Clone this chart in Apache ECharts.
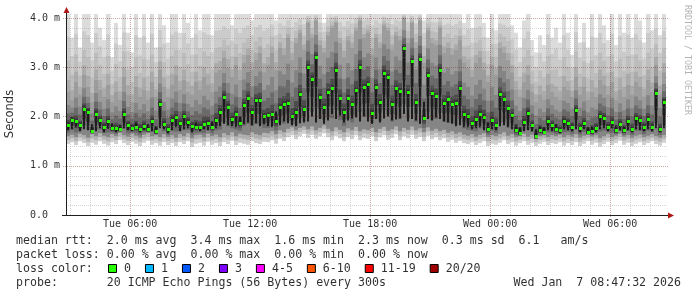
<!DOCTYPE html>
<html><head><meta charset="utf-8">
<script src="https://cdn.jsdelivr.net/npm/echarts@6/dist/echarts.min.js"></script>
<style>html,body{margin:0;padding:0;background:#fff}#c{width:697px;height:297px}</style>
</head><body><div id="c"></div>
<script>
// time in hours since Tue 00:00; one smoke column every 12 minutes
const tStart = 2.792;
const tStep = 0.2;
const tSpan = 30;
const yMax = 4.08;

const median = [
1.83,1.93,1.90,1.82,2.16,2.10,1.71,2.06,1.92,1.79,1.90,1.76,1.76,1.75,2.05,1.82,1.77,1.79,1.75,1.80,1.74,1.90,1.70,2.25,1.85,
1.75,1.93,1.98,1.86,2.00,1.89,1.80,1.79,1.79,1.85,1.87,1.79,1.92,2.10,2.40,2.20,1.95,2.05,1.86,2.23,2.38,2.10,2.33,2.34,2.00,
2.02,2.05,1.90,2.20,2.26,2.28,2.00,2.10,2.45,2.15,3.00,2.77,3.20,2.40,2.20,2.50,2.58,2.95,2.38,2.10,2.38,2.25,2.54,3.00,2.60,
2.65,2.08,2.60,2.29,2.89,2.80,2.26,2.57,2.52,3.38,2.49,3.12,2.29,3.16,1.97,2.84,2.47,2.41,2.94,2.28,2.35,2.26,2.28,2.57,2.06,
2.00,1.86,1.95,2.06,1.99,1.75,1.93,1.82,2.46,2.36,2.17,2.02,1.73,1.67,1.89,2.07,1.82,1.60,1.72,1.69,1.90,1.82,1.75,1.72,1.90,
1.86,1.79,2.13,1.77,1.86,1.69,1.70,1.77,2.00,1.97,1.79,1.88,1.72,1.84,1.72,1.90,1.75,1.96,1.92,1.79,1.95,1.79,2.48,1.75,2.30];

const smokeDark = [
1.72,1.74,1.78,1.70,1.74,1.72,1.84,1.70,1.76,1.68,1.75,1.86,1.68,1.82,1.76,1.72,1.70,1.88,1.68,1.72,1.84,1.70,1.80,1.76,1.74,
1.66,1.72,1.78,1.70,1.74,1.76,1.68,1.88,1.70,1.74,1.72,1.90,1.76,1.80,1.85,1.82,1.80,1.78,2.00,1.84,1.88,1.82,1.86,1.80,1.84,
1.80,1.78,2.10,1.82,1.90,1.86,1.82,1.80,1.86,1.88,1.90,2.00,1.88,1.95,1.85,1.92,2.05,1.95,2.02,1.88,1.92,1.96,1.98,1.90,2.00,
1.90,1.85,1.95,1.88,1.96,2.00,1.92,1.94,1.96,2.05,1.90,1.95,1.92,1.85,2.30,1.95,1.92,1.98,1.95,1.90,1.88,1.85,1.80,1.82,1.78,
1.78,1.74,1.76,1.78,1.72,1.88,1.74,1.72,1.80,1.82,1.78,1.74,1.82,1.78,1.70,1.72,1.70,1.74,1.80,1.78,1.72,1.70,1.84,1.66,1.74,
1.72,1.70,1.74,1.68,1.74,1.78,1.80,1.68,1.74,1.76,1.70,1.76,1.82,1.72,1.80,1.72,1.68,1.74,1.72,1.70,1.74,1.70,1.76,1.68,1.76];

const smokeLo = [
1.44,1.48,1.42,1.50,1.46,1.40,1.47,1.43,1.50,1.45,1.41,1.48,1.44,1.52,1.46,1.42,1.49,1.45,1.40,1.47,1.51,1.43,1.46,1.41,1.48,
1.42,1.46,1.40,1.48,1.44,1.50,1.38,1.45,1.47,1.41,1.49,1.43,1.46,1.40,1.48,1.44,1.51,1.42,1.47,1.45,1.43,1.50,1.46,1.44,1.49,
1.48,1.52,1.45,1.55,1.50,1.58,1.62,1.54,1.60,1.65,1.57,1.63,1.55,1.60,1.66,1.58,1.52,1.61,1.56,1.50,1.59,1.54,1.62,1.52,1.57,
1.55,1.60,1.50,1.58,1.62,1.53,1.57,1.64,1.52,1.60,1.56,1.63,1.55,1.59,1.50,1.61,1.54,1.58,1.52,1.56,1.49,1.53,1.47,1.51,1.46,
1.44,1.48,1.42,1.46,1.50,1.40,1.45,1.43,1.47,1.52,1.44,1.48,1.41,1.46,1.50,1.43,1.47,1.40,1.45,1.49,1.42,1.46,1.44,1.48,1.41,
1.46,1.42,1.48,1.40,1.45,1.50,1.43,1.47,1.39,1.44,1.49,1.42,1.46,1.51,1.43,1.47,1.40,1.45,1.48,1.42,1.46,1.50,1.44,1.41,1.47];

const smokeQ1 = [
1.60,1.63,1.58,1.65,1.62,1.57,1.64,1.60,1.66,1.61,1.58,1.64,1.60,1.67,1.62,1.59,1.65,1.61,1.57,1.63,1.66,1.60,1.62,1.58,1.64,
1.58,1.62,1.57,1.64,1.60,1.66,1.56,1.62,1.63,1.58,1.65,1.60,1.63,1.58,1.66,1.62,1.68,1.60,1.65,1.63,1.62,1.68,1.64,1.62,1.67,
1.66,1.70,1.64,1.72,1.68,1.75,1.78,1.72,1.77,1.80,1.74,1.80,1.72,1.77,1.82,1.75,1.70,1.78,1.73,1.68,1.76,1.72,1.79,1.70,1.74,
1.72,1.77,1.68,1.75,1.79,1.71,1.74,1.80,1.70,1.77,1.73,1.80,1.72,1.76,1.68,1.78,1.71,1.75,1.70,1.73,1.67,1.70,1.65,1.68,1.63,
1.61,1.64,1.59,1.63,1.66,1.58,1.62,1.60,1.64,1.68,1.61,1.64,1.58,1.60,1.65,1.59,1.63,1.56,1.60,1.62,1.58,1.62,1.60,1.63,1.58,
1.62,1.59,1.64,1.57,1.61,1.63,1.59,1.62,1.56,1.60,1.64,1.58,1.61,1.65,1.59,1.62,1.57,1.61,1.63,1.58,1.61,1.64,1.60,1.57,1.62];

const smokeQ3 = [
2.50,2.35,2.70,2.45,2.85,2.60,2.30,2.75,2.55,2.40,2.65,2.30,2.50,2.35,2.80,2.45,2.30,2.60,2.40,2.55,2.35,2.70,2.40,2.95,2.60,
2.40,2.65,2.85,2.55,2.75,2.50,2.45,2.70,2.55,2.80,2.65,2.50,2.90,2.95,3.20,3.00,2.80,3.05,2.75,3.10,3.25,2.95,3.15,3.30,2.90,
3.05,3.30,2.95,3.40,3.25,3.60,3.15,3.50,3.70,3.35,3.90,3.60,3.95,3.45,3.30,3.65,3.80,3.90,3.50,3.20,3.55,3.40,3.75,3.95,3.60,
3.70,3.25,3.60,3.40,3.85,3.75,3.35,3.65,3.55,4.00,3.50,3.90,3.40,3.95,3.10,3.75,3.50,3.45,3.80,3.30,3.40,3.25,3.35,3.55,3.10,
3.00,2.80,3.10,3.20,2.95,2.70,3.05,2.85,3.40,3.30,3.15,2.90,2.55,2.40,2.70,2.85,2.50,2.30,2.45,2.35,2.65,2.50,2.40,2.35,2.60,
2.55,2.40,2.80,2.45,2.60,2.35,2.50,2.40,2.75,2.65,2.45,2.70,2.35,2.55,2.40,2.65,2.45,2.70,2.60,2.40,2.75,2.50,3.05,2.45,2.90];

const smokeHi = [
4.10,3.60,4.10,3.40,4.10,4.10,3.50,4.10,3.80,3.55,4.10,3.20,3.90,3.45,4.10,3.70,3.30,4.10,3.60,4.10,3.50,4.10,3.40,4.10,3.85,
3.50,4.10,4.10,3.70,4.10,3.90,3.60,4.10,3.75,4.10,4.10,3.65,4.10,4.10,4.10,4.10,3.85,4.10,4.10,4.10,4.10,3.95,4.10,4.10,4.10,
4.10,4.10,3.95,4.10,4.10,4.10,4.10,4.10,4.10,4.10,4.10,4.10,4.10,4.10,3.90,4.10,4.10,4.10,4.10,4.10,4.10,4.10,4.10,4.10,4.10,
4.10,4.10,4.10,4.10,4.10,4.10,4.10,4.10,4.10,4.10,4.10,4.10,4.10,4.10,3.95,4.10,4.10,4.10,4.10,4.10,4.10,4.10,4.10,4.10,3.90,
4.10,3.80,4.10,4.10,3.90,3.60,4.10,3.75,4.10,4.10,4.10,3.85,3.70,3.40,3.95,4.10,3.55,3.30,3.65,3.45,4.10,3.60,3.80,3.50,4.10,
3.70,3.25,4.10,3.50,3.90,3.40,4.10,3.60,4.10,3.85,3.55,4.10,3.45,4.10,3.70,4.10,3.60,4.10,3.95,3.50,4.10,3.75,4.10,3.65,4.10];

const yLabelValues = [0, 1, 2, 3, 4];
const yMajorTicks = [1, 2, 3, 4];
const yMinorTicks = [0.2,0.4,0.6,0.8,1.2,1.4,1.6,1.8,2.2,2.4,2.6,2.8,3.2,3.4,3.6,3.8];
const xMajorTicks = [6, 12, 18, 24, 30];
const xTickLabels = ['Tue 06:00', 'Tue 12:00', 'Tue 18:00', 'Wed 00:00', 'Wed 06:00'];
const xMinorTicks = [3,4,5,7,8,9,10,11,13,14,15,16,17,19,20,21,22,23,25,26,27,28,29,31,32];

const legendLines = [
  'median rtt:  2.0 ms avg  3.4 ms max  1.6 ms min  2.3 ms now  0.3 ms sd  6.1   am/s',
  'packet loss: 0.00 % avg  0.00 % max  0.00 % min  0.00 % now'
];
const lossLabels = ['0', '1', '2', '3', '4-5', '6-10', '11-19', '20/20'];
const lossColors = ['#26ff00', '#00b8ff', '#0059ff', '#7e00ff', '#ff00ff', '#ff5500', '#ff0000', '#a00000'];
const probeText = 'probe:       20 ICMP Echo Pings (56 Bytes) every 300s';
const dateText = 'Wed Jan  7 08:47:32 2026';

const smokeData = median.map((m, i) => [tStart + i * tStep, smokeLo[i], smokeQ1[i], m, smokeDark[i], smokeQ3[i], smokeHi[i]]);

function renderSmoke(params, api) {
  const t = api.value(0);
  const xa = Math.round(api.coord([t, 0])[0]);
  const xb = Math.round(api.coord([t + tStep, 0])[0]);
  const w = xb - xa;
  const Y = v => api.coord([t, Math.max(0, Math.min(v, yMax))])[1];
  const lo = api.value(1), q1 = api.value(2), md = api.value(3), dk = api.value(4), q3 = api.value(5), hi = api.value(6);
  const band = (a, b, fill, xx, ww) => {
    const ya = Y(a), yb = Y(b);
    return { type: 'rect', shape: { x: xx == null ? xa : xx, y: Math.min(ya, yb), width: ww == null ? w : ww, height: Math.abs(ya - yb) }, style: { fill: fill } };
  };
  const up = f => q3 + (hi - q3) * f;
  const mid = f => md + (q3 - md) * f;
  const low = f => lo + (q1 - lo) * f;
  const below = f => q1 + (md - q1) * f;
  return { type: 'group', children: [
    band(lo, hi, '#dcdcdc'),
    band(q3, up(0.7), '#cbcbcb'),
    band(q3, up(0.4), '#bdbdbd'),
    band(q3, up(0.15), '#ababab'),
    band(lo, q1, '#cfcfcf'),
    band(low(0.5), q1, '#b3b3b3'),
    band(q1, q3, '#9c9c9c'),
    band(q1, mid(0.6), '#858585'),
    band(below(0.3), mid(0.35), '#6a6a6a'),
    band(below(0.6), mid(0.15), '#4c4c4c'),
    band(md - 0.05, md + 0.06, '#363636'),
    band(Math.min(md, dk), Math.max(md, dk), '#1c1c1c', xa + 1, 2)
  ]};
}

function renderMedian(params, api) {
  const t = api.value(0);
  const p = api.coord([t + tStep / 2, api.value(1)]);
  return { type: 'rect', shape: { x: Math.round(p[0]) - 1, y: Math.round(p[1]) - 1, width: 3, height: 3 }, style: { fill: lossColors[0] } };
}

function renderHGrid(params, api) {
  const cs = params.coordSys;
  const major = api.value(2) === 1;
  const y = Math.round(api.coord([tStart, api.value(1)])[1]) + 0.5;
  return { type: 'line', shape: { x1: cs.x - (major ? 3 : 0), y1: y, x2: cs.x + cs.width + 2, y2: y },
    style: { stroke: major ? 'rgba(130,30,30,0.40)' : 'rgba(140,140,140,0.35)', lineWidth: 1, lineDash: [1, 1] } };
}
function renderVGrid(params, api) {
  const cs = params.coordSys;
  const major = api.value(2) === 1;
  const x = Math.round(api.coord([api.value(0), 0])[0]) + 0.5;
  return { type: 'line', shape: { x1: x, y1: cs.y, x2: x, y2: cs.y + cs.height + (major ? 2 : 0) },
    style: { stroke: major ? 'rgba(130,30,30,0.40)' : 'rgba(140,140,140,0.35)', lineWidth: 1, lineDash: [1, 1] } };
}

const hGridData = yMinorTicks.map(v => [tStart, v, 0]).concat(yMajorTicks.map(v => [tStart, v, 1]));
const vGridData = xMinorTicks.map(v => [v, 0, 0]).concat(xMajorTicks.map(v => [v, 0, 1]));

const MONO = '"DejaVu Sans Mono", monospace';
const FONT_C = 'rgba(0,0,0,0.82)';
const gL = 66, gT = 14, gW = 600, gH = 201;

const graphics = [];
graphics.push({ type: 'line', z: 100, shape: { x1: gL + 0.5, y1: gT + gH, x2: gL + 0.5, y2: 10 }, style: { stroke: '#202020', lineWidth: 1 } });
graphics.push({ type: 'polygon', z: 101, shape: { points: [[gL - 2.5, 13], [gL + 3.5, 13], [gL + 0.5, 7]] }, style: { fill: '#b01818' } });
graphics.push({ type: 'line', z: 100, shape: { x1: gL - 4, y1: gT + gH + 0.5, x2: gL + gW + 6, y2: gT + gH + 0.5 }, style: { stroke: '#202020', lineWidth: 1 } });
graphics.push({ type: 'polygon', z: 101, shape: { points: [[gL + gW + 2, gT + gH - 2.5], [gL + gW + 2, gT + gH + 3.5], [gL + gW + 8, gT + gH + 0.5]] }, style: { fill: '#b01818' } });
graphics.push({ type: 'text', z: 100, x: 10, y: 114, rotation: Math.PI / 2,
  style: { text: 'Seconds', font: '11.5px "DejaVu Sans"', fill: FONT_C, align: 'center', verticalAlign: 'middle' } });
graphics.push({ type: 'text', z: 100, x: 687, y: 60, rotation: -Math.PI / 2,
  style: { text: 'RRDTOOL / TOBI OETIKER', font: '8.3px ' + MONO, fill: '#b4b4b4', align: 'center', verticalAlign: 'middle' } });
const rowY = [241, 255, 269, 283];
legendLines.forEach((s, i) => graphics.push({ type: 'text', z: 100, x: 16, y: rowY[i],
  style: { text: s, font: '11.6px ' + MONO, fill: FONT_C, verticalAlign: 'middle' } }));
graphics.push({ type: 'text', z: 100, x: 16, y: rowY[2], style: { text: 'loss color:', font: '11.6px ' + MONO, fill: FONT_C, verticalAlign: 'middle' } });
let bx = 108;
lossLabels.forEach((lab, i) => {
  graphics.push({ type: 'rect', z: 100, shape: { x: bx + 0.5, y: rowY[2] - 4.5, width: 8, height: 8 }, style: { fill: lossColors[i], stroke: '#000', lineWidth: 1 } });
  graphics.push({ type: 'text', z: 100, x: bx + 16, y: rowY[2], style: { text: lab, font: '11.6px ' + MONO, fill: FONT_C, verticalAlign: 'middle' } });
  bx += 16 + lab.length * 6.98 + 14;
});
graphics.push({ type: 'text', z: 100, x: 16, y: rowY[3], style: { text: probeText, font: '11.6px ' + MONO, fill: FONT_C, verticalAlign: 'middle' } });
graphics.push({ type: 'text', z: 100, x: 681, y: rowY[3], style: { text: dateText, font: '11.6px ' + MONO, fill: FONT_C, align: 'right', verticalAlign: 'middle' } });

const chart = echarts.init(document.getElementById('c'), null, { renderer: 'canvas', width: 697, height: 297 });
chart.setOption({
  animation: false,
  backgroundColor: '#ffffff',
  grid: { left: gL, top: gT, width: gW, height: gH, containLabel: false },
  xAxis: { type: 'value', min: tStart, max: tStart + tSpan,
    axisLine: { show: false }, axisTick: { show: false }, splitLine: { show: false },
    axisLabel: { customValues: xMajorTicks, formatter: v => xTickLabels[xMajorTicks.indexOf(Math.round(v))],
      fontFamily: 'DejaVu Sans Mono', fontSize: 10, color: FONT_C, margin: 4 } },
  yAxis: { type: 'value', min: 0, max: yMax,
    axisLine: { show: false }, axisTick: { show: false }, splitLine: { show: false },
    axisLabel: { customValues: yLabelValues, formatter: v => v === 0 ? '0.0' : v.toFixed(1) + ' m',
      fontFamily: 'DejaVu Sans Mono', fontSize: 10, color: FONT_C, align: 'left', margin: 36 } },
  series: [
    { type: 'custom', name: 'smoke', z: 2, clip: true, silent: true, renderItem: renderSmoke,
      dimensions: ['t', 'lo', 'q1', 'med', 'dk', 'q3', 'hi'], encode: { x: 't', y: 'med' }, data: smokeData },
    { type: 'custom', name: 'median', z: 4, clip: true, silent: true, renderItem: renderMedian,
      encode: { x: 0, y: 1 }, data: median.map((m, i) => [tStart + i * tStep, m]) },
    { type: 'custom', name: 'hgrid', z: 6, silent: true, renderItem: renderHGrid, encode: { x: 0, y: 1 }, data: hGridData },
    { type: 'custom', name: 'vgrid', z: 6, silent: true, renderItem: renderVGrid, encode: { x: 0, y: 1 }, data: vGridData }
  ],
  graphic: graphics
});
</script></body></html>
